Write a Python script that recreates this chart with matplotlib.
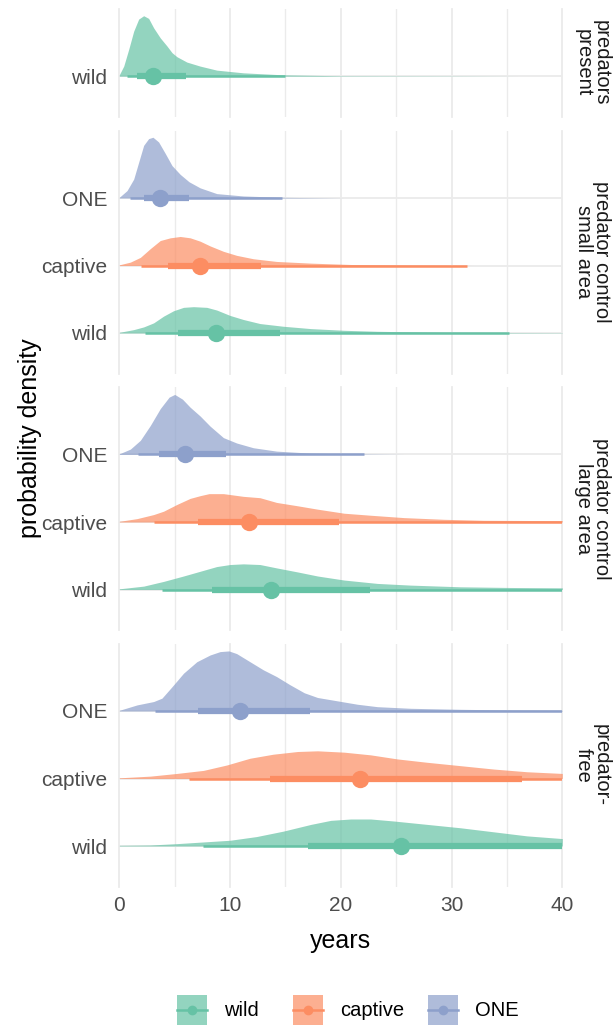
import numpy as np
import matplotlib
matplotlib.use("Agg")
import matplotlib.pyplot as plt
from matplotlib.patches import Rectangle

plt.rcParams['font.family'] = ['Liberation Sans', 'DejaVu Sans']

# categorias e cores
groups = ["wild", "captive", "ONE"]
colors = ["#66C2A5", "#FC8D62", "#8DA0CB"]
facets = ["predators\npresent", "predator control\nsmall area",
          "predator control\nlarge area", "predator-\nfree"]
x_ticks = [0, 10, 20, 30, 40]
x_minor = [5, 15, 25, 35]

# densidades (altura relativa ao espaço entre linhas)
pp_wild_x = [0.0, 0.4, 0.85, 1.3, 1.75, 2.2, 2.65, 3.1, 3.7, 4.3, 4.76, 5.2, 6.1, 7.3, 8.8, 11.2, 14.8, 20, 30, 36]
pp_wild_h = [0.02, 0.15, 0.40, 0.67, 0.85, 0.90, 0.86, 0.72, 0.57, 0.45, 0.35, 0.29, 0.21, 0.15, 0.09, 0.05, 0.02, 0.006, 0.003, 0.0]

sa_wild_x = [0.0, 1.3, 2.2, 3.1, 4.0, 4.9, 5.8, 6.7, 7.9, 8.8, 10.0, 11.2, 12.7, 14.8, 17.3, 20.3, 23.3, 29.3, 40]
sa_wild_h = [0.01, 0.05, 0.09, 0.15, 0.25, 0.33, 0.38, 0.39, 0.38, 0.34, 0.26, 0.20, 0.14, 0.10, 0.065, 0.04, 0.025, 0.01, 0.004]
sa_captive_x = [0.0, 1.0, 1.9, 2.8, 3.7, 4.6, 5.5, 6.4, 7.3, 8.2, 9.4, 10.6, 12.1, 14.2, 17.3, 20.9, 26.3, 32]
sa_captive_h = [0.01, 0.05, 0.12, 0.25, 0.37, 0.41, 0.43, 0.41, 0.36, 0.29, 0.21, 0.15, 0.10, 0.06, 0.035, 0.015, 0.005, 0.0]
sa_one_x = [0.0, 0.7, 1.3, 1.75, 2.2, 2.65, 3.04, 3.55, 4.15, 4.76, 5.5, 6.3, 7.3, 8.8, 11.2, 14.8, 20.3]
sa_one_h = [0.01, 0.11, 0.28, 0.53, 0.78, 0.88, 0.90, 0.83, 0.66, 0.48, 0.35, 0.24, 0.15, 0.065, 0.03, 0.01, 0.0]

la_wild_x = [0.0, 2.2, 4.0, 5.8, 7.3, 8.8, 10.0, 11.2, 12.7, 14.2, 16.1, 17.9, 20.3, 23.3, 26.3, 30.8, 35.3, 40]
la_wild_h = [0.01, 0.05, 0.12, 0.20, 0.27, 0.34, 0.37, 0.38, 0.37, 0.32, 0.26, 0.20, 0.14, 0.09, 0.065, 0.04, 0.03, 0.025]
la_captive_x = [0.0, 1.6, 3.1, 4.0, 5.2, 6.4, 7.3, 8.1, 9.4, 11.2, 12.7, 14.2, 16.1, 17.9, 20.3, 22.7, 25.7, 29.3, 32.9, 40]
la_captive_h = [0.01, 0.05, 0.11, 0.16, 0.26, 0.35, 0.39, 0.42, 0.42, 0.38, 0.36, 0.29, 0.24, 0.19, 0.13, 0.10, 0.065, 0.04, 0.025, 0.02]
la_one_x = [0.0, 1.0, 1.9, 2.8, 3.7, 4.5, 5.0, 5.7, 6.4, 7.3, 8.2, 9.4, 10.6, 12.1, 14.2, 17.3, 22.1, 25.7]
la_one_h = [0.01, 0.08, 0.21, 0.43, 0.68, 0.85, 0.89, 0.82, 0.70, 0.57, 0.42, 0.25, 0.17, 0.10, 0.05, 0.02, 0.005, 0.0]

pf_wild_x = [0.0, 2.8, 5.2, 7.6, 10.0, 12.4, 14.8, 17.3, 19.1, 20.9, 22.7, 24.8, 27.8, 30.8, 33.8, 36.8, 40]
pf_wild_h = [0.01, 0.015, 0.035, 0.06, 0.085, 0.14, 0.22, 0.32, 0.38, 0.40, 0.40, 0.37, 0.32, 0.27, 0.21, 0.15, 0.11]
pf_captive_x = [0.0, 2.8, 5.2, 7.6, 9.7, 11.8, 13.9, 16.1, 17.9, 20.3, 22.7, 25.1, 27.8, 30.8, 33.8, 36.8, 40]
pf_captive_h = [0.01, 0.035, 0.075, 0.12, 0.20, 0.30, 0.36, 0.40, 0.41, 0.39, 0.35, 0.29, 0.24, 0.19, 0.14, 0.10, 0.075]
pf_one_x = [0.0, 1.6, 3.1, 3.85, 4.76, 5.8, 7.0, 8.2, 9.1, 9.9, 10.6, 11.8, 13.0, 14.2, 15.4, 16.7, 17.9, 19.7, 21.5, 23.3, 26.3, 30.8, 35.3, 40]
pf_one_h = [0.01, 0.09, 0.14, 0.19, 0.36, 0.56, 0.73, 0.83, 0.88, 0.89, 0.85, 0.73, 0.61, 0.51, 0.39, 0.27, 0.20, 0.15, 0.10, 0.064, 0.04, 0.025, 0.015, 0.01]

# mediana e intervalos 66% / 95% (ordem: wild, captive, ONE)
pp_median = [3.0]
pp_q66 = [(1.6, 6.0)]
pp_q95 = [(0.7, 15.0)]
sa_median = [8.7, 7.3, 3.7]
sa_q66 = [(5.3, 14.5), (4.4, 12.8), (2.2, 6.3)]
sa_q95 = [(2.35, 35.2), (2.0, 31.4), (1.0, 14.7)]
la_median = [13.7, 11.7, 5.9]
la_q66 = [(8.4, 22.6), (7.1, 19.8), (3.6, 9.6)]
la_q95 = [(3.85, 48.0), (3.15, 47.0), (1.65, 22.1)]
pf_median = [25.4, 21.7, 10.9]
pf_q66 = [(17.0, 41.0), (13.6, 36.4), (7.1, 17.2)]
pf_q95 = [(7.6, 52.0), (6.3, 50.0), (3.2, 45.0)]

slabs = [
    [(pp_wild_x, pp_wild_h)],
    [(sa_wild_x, sa_wild_h), (sa_captive_x, sa_captive_h), (sa_one_x, sa_one_h)],
    [(la_wild_x, la_wild_h), (la_captive_x, la_captive_h), (la_one_x, la_one_h)],
    [(pf_wild_x, pf_wild_h), (pf_captive_x, pf_captive_h), (pf_one_x, pf_one_h)],
]
medians = [pp_median, sa_median, la_median, pf_median]
q66s = [pp_q66, sa_q66, la_q66, pf_q66]
q95s = [pp_q95, sa_q95, la_q95, pf_q95]

W, H = 614, 1028
fig = plt.figure(figsize=(W / 100, H / 100), dpi=100)

# posição dos painéis em pixels (topo, altura)
panel_top = [9, 130.5, 387, 643.5]
panel_h = [107.5, 243, 243, 243]
x_left, x_right = 119.3, 562.3

grid_col = "#EBEBEB"
for i in range(4):
    ax = fig.add_axes([x_left / W, 1 - (panel_top[i] + panel_h[i]) / H,
                       (x_right - x_left) / W, panel_h[i] / H])
    n = len(slabs[i])
    rows = np.arange(1, n + 1)
    ax.set_xlim(0, 40)
    ax.set_ylim(0.4, n + 1.0)
    ax.set_xticks(x_ticks)
    ax.set_xticks(x_minor, minor=True)
    ax.set_yticks(rows)
    ax.set_yticklabels(groups[:n])
    ax.grid(which="major", color=grid_col, lw=1.3, zorder=0)
    ax.grid(which="minor", axis="x", color=grid_col, lw=1.0, zorder=0)
    for gl in ax.xaxis.get_gridlines() + ax.xaxis.get_minorticklines():
        gl.set_clip_on(False)
    ax.set_axisbelow(True)
    for s in ax.spines.values():
        s.set_visible(False)
    ax.tick_params(axis="both", which="both", length=0, labelsize=15, labelcolor="#4D4D4D")
    ax.tick_params(axis="y", pad=8.5)
    ax.tick_params(axis="x", pad=7)
    if i < 3:
        ax.tick_params(axis="x", labelbottom=False)

    for j, (xs, hs) in enumerate(slabs[i]):
        y0 = rows[j]
        ax.fill_between(xs, y0, y0 + np.array(hs), color=colors[j], alpha=0.7, lw=0, zorder=2)
        lo, hi = q95s[i][j]
        ax.plot([lo, hi], [y0, y0], color=colors[j], lw=1.8, solid_capstyle="butt", zorder=3)
        lo, hi = q66s[i][j]
        ax.plot([lo, hi], [y0, y0], color=colors[j], lw=4.5, solid_capstyle="butt", zorder=4)
        ax.plot(medians[i][j], y0, "o", ms=12.5, color=colors[j], mec="none", zorder=5)

    ax.annotate(facets[i], xy=(1, 0.5), xycoords="axes fraction", xytext=(21.5, 0),
                textcoords="offset points", rotation=-90, ha="center", va="center",
                multialignment="center", fontsize=14.5, color="#1A1A1A", linespacing=0.95)

fig.text(30 / W, 1 - 438 / H, "probability density", rotation=90, ha="center",
         va="center", fontsize=18)
fig.text((x_left + x_right) / 2 / W, 1 - 941 / H, "years", ha="center", va="center", fontsize=18)

# legenda desenhada à mão
lax = fig.add_axes([0, 0, 1, 1])
lax.set_xlim(0, W)
lax.set_ylim(H, 0)
lax.axis("off")
key_left = [177, 293.3, 428.3]
for k, g in enumerate(groups):
    x0 = key_left[k]
    lax.add_patch(Rectangle((x0, 995), 30, 30, color=colors[k], alpha=0.7, lw=0))
    lax.plot([x0, x0 + 30], [1010, 1010], color=colors[k], lw=1.8)
    lax.plot(x0 + 15, 1010, "o", ms=7, color=colors[k], mec="none")
    lax.text(x0 + 47, 1011, g, va="center", ha="left", fontsize=14.5)

fig.savefig("out.png", dpi=100)
